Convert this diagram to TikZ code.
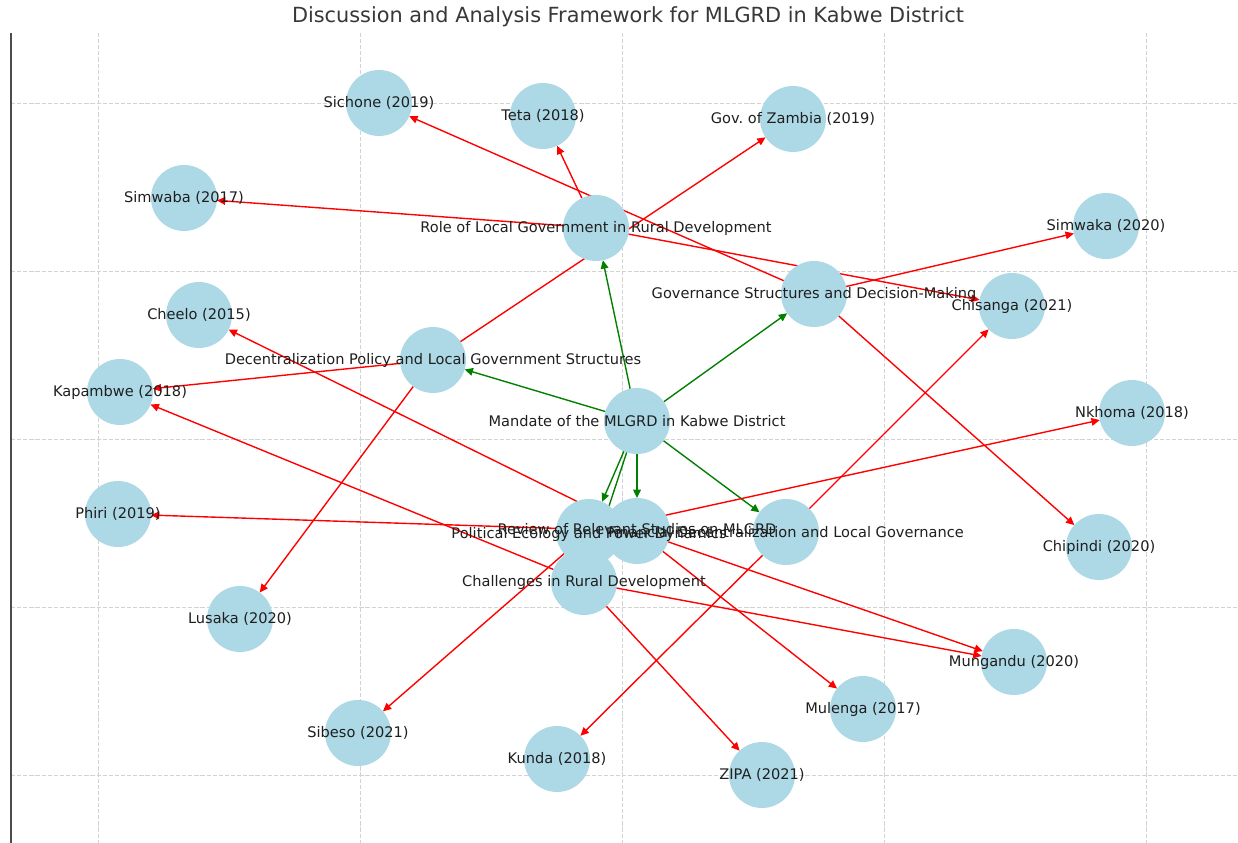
\documentclass[tikz,border=0pt]{standalone}
\usepackage{fontspec}
\setmainfont{DejaVu Sans}
\usetikzlibrary{arrows.meta}
\pgfdeclarelayer{bg}
\pgfsetlayers{bg,main}
\definecolor{nodeblue}{HTML}{ADD8E6}
\definecolor{edgegreen}{HTML}{008000}
\definecolor{edgered}{HTML}{FF0000}
\begin{document}
\begin{tikzpicture}[x=0.72pt,y=-0.72pt,
  circ/.style={circle,fill=nodeblue,minimum size=47.5pt,inner sep=0pt,outer sep=0pt},
  lab/.style={font=\fontsize{10.5}{12}\selectfont,text=black!88,inner sep=0pt},
  redarrow/.style={draw=edgered,line width=1pt,-{Triangle[length=6pt,width=5.5pt]}},
  greenarrow/.style={draw=edgegreen,line width=1pt,-{Triangle[length=6pt,width=5.5pt]}},
  gridline/.style={draw=gray!35,line width=0.6pt,dash pattern=on 3pt off 1.4pt},
  spine/.style={draw=black!70,line width=1.4pt},
  titlestyle/.style={font=\fontsize{15}{18}\selectfont,text=black!78,inner sep=0pt}]
\useasboundingbox (0,0) rectangle (1238,843);

% background, grid and spine
\begin{pgfonlayer}{bg}
\fill[white] (0,0) rectangle (1238,843);
\foreach \gx in {98,360,622,884,1146} {\draw[gridline] (\gx,33) -- (\gx,843);}
\foreach \gy in {103.5,271.5,439.5,607.5,775.5} {\draw[gridline] (11,\gy) -- (1238,\gy);}
\draw[spine] (11,33) -- (11,843);
\end{pgfonlayer}

\node[titlestyle] (title) at (628,17) {Discussion and Analysis Framework for MLGRD in Kabwe District};

% theme circles
\node[circ] (mandate) at (637,421) {};
\node[circ] (role) at (596,228) {};
\node[circ] (gov) at (814,294) {};
\node[circ] (dp) at (433,360) {};
\node[circ] (dlg) at (786,532) {};
\node[circ] (chal) at (584,582) {};
\node[circ] (pe) at (589,532) {};
\node[circ] (review) at (637,531) {};

% reference circles
\node[circ] (sichone) at (379,103) {};
\node[circ] (teta) at (543,116) {};
\node[circ] (govz) at (793,119) {};
\node[circ] (simwaba) at (184,198) {};
\node[circ] (simwaka) at (1106,226) {};
\node[circ] (chisanga) at (1012,306) {};
\node[circ] (cheelo) at (199,315) {};
\node[circ] (kapambwe) at (120,392) {};
\node[circ] (nkhoma) at (1132,413) {};
\node[circ] (phiri) at (118,514) {};
\node[circ] (chipindi) at (1099,547) {};
\node[circ] (lusaka) at (240,619) {};
\node[circ] (mungandu) at (1014,662) {};
\node[circ] (mulenga) at (863,709) {};
\node[circ] (sibeso) at (358,733) {};
\node[circ] (kunda) at (557,759) {};
\node[circ] (zipa) at (762,775) {};

% labels
\node[lab] (mandate-l) at (mandate) {Mandate of the MLGRD in Kabwe District};
\node[lab] (role-l) at (role) {Role of Local Government in Rural Development};
\node[lab] (gov-l) at (gov) {Governance Structures and Decision-Making};
\node[lab] (dp-l) at (dp) {Decentralization Policy and Local Government Structures};
\node[lab] (dlg-l) at (dlg) {Financial Decentralization and Local Governance};
\node[lab] (chal-l) at (chal) {Challenges in Rural Development};
\node[lab] (pe-l) at ([yshift=-1.5pt]pe.center) {Political Ecology and Power Dynamics};
\node[lab] (review-l) at ([yshift=1.5pt]review.center) {Review of Relevant Studies on MLGRD};
\node[lab] (sichone-l) at (sichone) {Sichone (2019)};
\node[lab] (teta-l) at (teta) {Teta (2018)};
\node[lab] (govz-l) at (govz) {Gov.\ of Zambia (2019)};
\node[lab] (simwaba-l) at (simwaba) {Simwaba (2017)};
\node[lab] (simwaka-l) at (simwaka) {Simwaka (2020)};
\node[lab] (chisanga-l) at (chisanga) {Chisanga (2021)};
\node[lab] (cheelo-l) at (cheelo) {Cheelo (2015)};
\node[lab] (kapambwe-l) at (kapambwe) {Kapambwe (2018)};
\node[lab] (nkhoma-l) at (nkhoma) {Nkhoma (2018)};
\node[lab] (phiri-l) at (phiri) {Phiri (2019)};
\node[lab] (chipindi-l) at (chipindi) {Chipindi (2020)};
\node[lab] (lusaka-l) at (lusaka) {Lusaka (2020)};
\node[lab] (mungandu-l) at (mungandu) {Mungandu (2020)};
\node[lab] (mulenga-l) at (mulenga) {Mulenga (2017)};
\node[lab] (sibeso-l) at (sibeso) {Sibeso (2021)};
\node[lab] (kunda-l) at (kunda) {Kunda (2018)};
\node[lab] (zipa-l) at (zipa) {ZIPA (2021)};

% edges
\begin{pgfonlayer}{bg}
\foreach \t in {role,gov,dp,review,pe,chal,dlg} {\draw[greenarrow] (mandate) -- (\t);}
\draw[redarrow] (role) -- (teta);
\draw[redarrow] (role) -- (simwaba);
\draw[redarrow] (role) -- (chisanga);
\draw[redarrow] (gov) -- (sichone);
\draw[redarrow] (gov) -- (simwaka);
\draw[redarrow] (gov) -- (chipindi);
\draw[redarrow] (dp) -- (kapambwe);
\draw[redarrow] (dp) -- (lusaka);
\draw[redarrow] (dp) -- (govz);
\draw[redarrow] (review) -- (cheelo);
\draw[redarrow] (review) -- (mulenga);
\draw[redarrow] (review) -- (mungandu);
\draw[redarrow] (review) -- (phiri);
\draw[redarrow] (pe) -- (sibeso);
\draw[redarrow] (pe) -- (nkhoma);
\draw[redarrow] (chal) -- (kapambwe);
\draw[redarrow] (chal) -- (zipa);
\draw[redarrow] (chal) -- (mungandu);
\draw[redarrow] (dlg) -- (kunda);
\draw[redarrow] (dlg) -- (chisanga);
\end{pgfonlayer}
\end{tikzpicture}
\end{document}
